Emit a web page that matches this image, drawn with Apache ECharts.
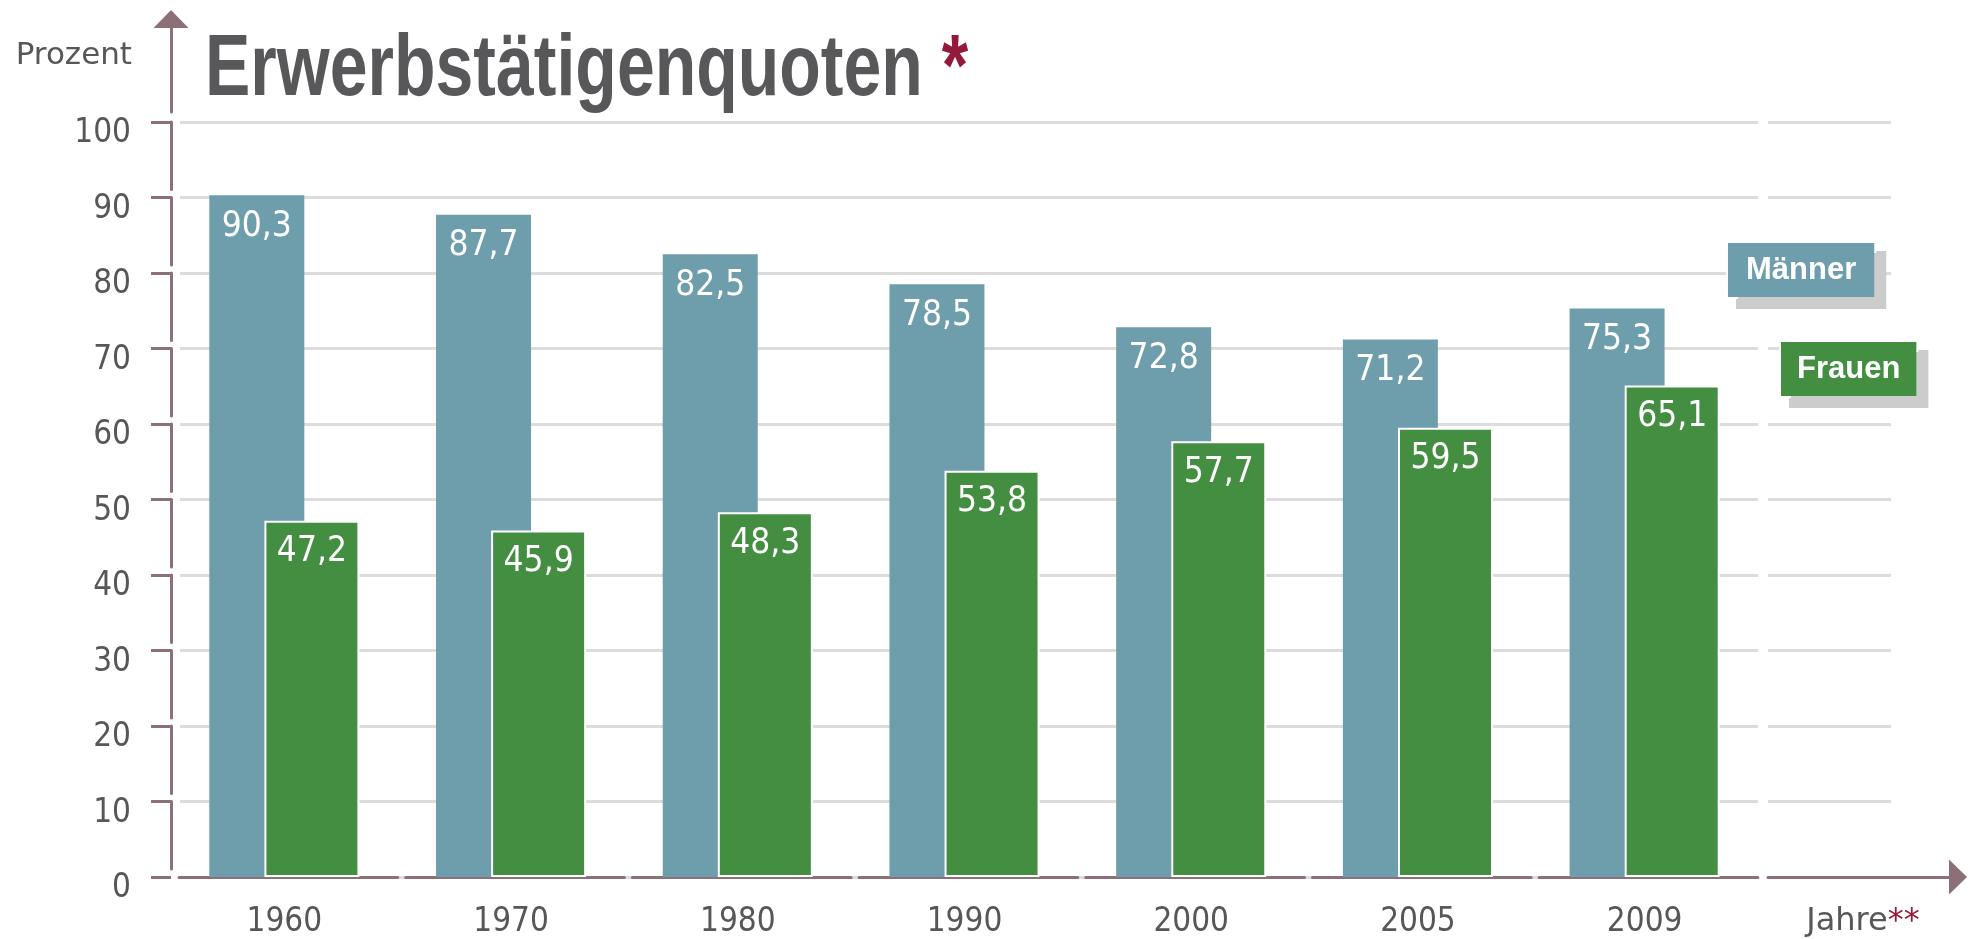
<!DOCTYPE html>
<html>
<head>
<meta charset="utf-8">
<title>Erwerbstätigenquoten</title>
<script src="https://cdn.jsdelivr.net/npm/echarts@6/dist/echarts.min.js"></script>
<style>
    html, body { margin: 0; padding: 0; background: #fff; }
    #main { width: 1970px; height: 939px; }
</style>
</head>
<body>
<div id="main"></div>
<script>
// Daten (Prozent)
var categories = ['1960', '1970', '1980', '1990', '2000', '2005', '2009'];
var maenner = [90.3, 87.7, 82.5, 78.5, 72.8, 71.2, 75.3];
var frauen = [47.2, 45.9, 48.3, 53.8, 57.7, 59.5, 65.1];
var yMin = 0;
var yMax = 100;
var yStep = 10;

var axisColor = '#8c7077';
var textColor = '#575757';
var gridColor = '#dcdcdc';
var blue = '#6e9dac';
var green = '#438e41';
var red = '#931a39';
var font = '"DejaVu Sans Condensed", "DejaVu Sans"';

function fmt(v) {
    return v.toFixed(1).replace('.', ',');
}

var myChart = echarts.init(document.getElementById('main'));

myChart.setOption({
    animation: false,
    graphic: [
        {
            type: 'text',
            x: 205,
            y: 71,
            scaleX: 0.85,
            scaleY: 1.08,
            style: {
                text: '{t|Erwerbstätigenquoten} {s|*}',
                font: 'bold 80px "Liberation Sans"',
                verticalAlign: 'middle',
                rich: {
                    t: { fontSize: 80, fontWeight: 'bold', fontFamily: 'Liberation Sans', fill: '#58585a' },
                    s: { fontSize: 80, fontWeight: 'bold', fontFamily: 'Liberation Sans', fill: red }
                }
            }
        }
    ],
    legend: [
        {
            data: ['Männer'],
            left: 1723,
            top: 241,
            padding: 0,
            itemWidth: 0,
            itemHeight: 0,
            itemStyle: { opacity: 0 },
            selectedMode: false,
            textStyle: {
                color: '#fff',
                fontFamily: 'Liberation Sans',
                fontWeight: 'bold',
                fontSize: 31,
                lineHeight: 32,
                backgroundColor: blue,
                borderColor: '#fff',
                borderWidth: 2,
                padding: [11, 18, 11, 18],
                shadowColor: '#cccccc',
                shadowBlur: 0,
                shadowOffsetX: 10,
                shadowOffsetY: 10
            }
        },
        {
            data: ['Frauen'],
            left: 1775,
            top: 340,
            padding: 0,
            itemWidth: 0,
            itemHeight: 0,
            itemStyle: { opacity: 0 },
            selectedMode: false,
            textStyle: {
                color: '#fff',
                fontFamily: 'Liberation Sans',
                fontWeight: 'bold',
                fontSize: 31,
                lineHeight: 32,
                backgroundColor: green,
                borderColor: '#fff',
                borderWidth: 2,
                padding: [11, 16, 11, 16],
                shadowColor: '#cccccc',
                shadowBlur: 0,
                shadowOffsetX: 10,
                shadowOffsetY: 10
            }
        }
    ],
    grid: [
        { left: 171, width: 1587, top: 122, bottom: 62 },   // Hauptdiagramm
        { left: 1768, right: 12, top: 122, bottom: 62 },    // Jahre-Pfeil
        { left: 171, width: 1, top: 19, bottom: 827 }      // Pfeil oben
    ],
    xAxis: [
        {
            gridIndex: 0,
            type: 'category',
            data: categories,
            boundaryGap: true,
            axisLine: {
                lineStyle: { color: axisColor, width: 3, type: [218.7, 8], dashOffset: 218.7 }
            },
            axisTick: {
                length: 18,
                lineStyle: { color: axisColor, width: 3 }
            },
            axisLabel: {
                color: textColor,
                fontFamily: font,
                fontSize: 33,
                margin: 29
            }
        },
        {
            gridIndex: 1,
            type: 'category',
            data: ['Jahre**'],
            axisLine: {
                symbol: ['none', 'triangle'],
                symbolSize: [35, 18],
                lineStyle: { color: axisColor, width: 3 }
            },
            axisTick: { show: false },
            axisLabel: {
                margin: 29,
                formatter: function (v) {
                    return '{a|' + v.replace(/\*+$/, '') + '}{b|**}';
                },
                rich: {
                    a: { color: textColor, fontFamily: 'DejaVu Sans', fontSize: 32 },
                    b: { color: red, fontFamily: 'DejaVu Sans', fontSize: 32 }
                }
            }
        },
        { gridIndex: 2, type: 'category', data: [''], show: false }
    ],
    yAxis: [
        {
            gridIndex: 0,
            type: 'value',
            min: yMin,
            max: yMax,
            interval: yStep,
            name: 'Prozent',
            nameLocation: 'end',
            nameGap: 66,
            nameTextStyle: {
                color: textColor,
                fontFamily: 'DejaVu Sans',
                fontSize: 31,
                align: 'right',
                verticalAlign: 'middle',
                padding: [0, 39, 0, 0]
            },
            axisLine: {
                show: true,
                lineStyle: { color: axisColor, width: 3, type: [67.5, 8], dashOffset: 67.5 }
            },
            axisTick: {
                show: true,
                length: 20,
                lineStyle: { color: axisColor, width: 3 }
            },
            axisLabel: {
                color: textColor,
                fontFamily: font,
                fontSize: 33,
                margin: 40,
                verticalAlign: 'top',
                lineHeight: 23
            },
            splitLine: {
                lineStyle: { color: gridColor, width: 3, type: [1600, 9], dashOffset: 1600 }
            }
        },
        {
            gridIndex: 1,
            type: 'value',
            min: yMin,
            max: yMax,
            interval: yStep,
            axisLine: { show: false },
            axisTick: { show: false },
            axisLabel: { show: false },
            splitLine: {
                lineStyle: { color: gridColor, width: 3, type: [123, 1000] }
            }
        },
        {
            gridIndex: 2,
            type: 'value',
            min: 0,
            max: 1,
            axisLine: {
                show: true,
                symbol: ['none', 'triangle'],
                symbolSize: [35, 18],
                lineStyle: { color: axisColor, width: 3 }
            },
            axisTick: { show: false },
            axisLabel: { show: false },
            splitLine: { show: false }
        }
    ],
    series: [
        {
            name: 'Männer',
            type: 'bar',
            xAxisIndex: 0,
            yAxisIndex: 0,
            data: maenner,
            barWidth: 95,
            barGap: '-42%',
            itemStyle: { color: blue },
            label: {
                show: true,
                position: 'insideTop',
                distance: 14,
                color: '#fff',
                fontFamily: font,
                fontSize: 35,
                formatter: function (p) { return fmt(p.value); }
            }
        },
        {
            name: 'Frauen',
            type: 'bar',
            xAxisIndex: 0,
            yAxisIndex: 0,
            data: frauen,
            barWidth: 95,
            itemStyle: { color: green, borderColor: '#fff', borderWidth: 2 },
            label: {
                show: true,
                position: 'insideTop',
                distance: 14,
                color: '#fff',
                fontFamily: font,
                fontSize: 35,
                formatter: function (p) { return fmt(p.value); }
            }
        }
    ]
});
</script>
</body>
</html>
